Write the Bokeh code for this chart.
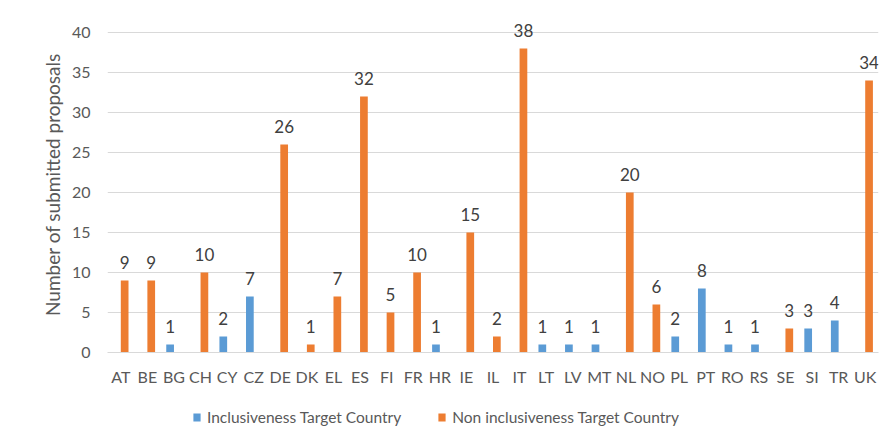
from bokeh.plotting import figure
from bokeh.layouts import column
from bokeh.models import ColumnDataSource, FactorRange, Range1d, FixedTicker, Legend, LegendItem
from bokeh.transform import dodge
from bokeh.core.properties import value
from bokeh.embed import file_html
from bokeh.resources import INLINE

countries = ["AT", "BE", "BG", "CH", "CY", "CZ", "DE", "DK", "EL", "ES", "FI", "FR", "HR", "IE", "IL",
             "IT", "LT", "LV", "MT", "NL", "NO", "PL", "PT", "RO", "RS", "SE", "SI", "TR", "UK"]
inclusive = [0, 0, 1, 0, 2, 7, 0, 0, 0, 0, 0, 0, 1, 0, 0,
             0, 1, 1, 1, 0, 0, 2, 8, 1, 1, 0, 3, 4, 0]
non_inclusive = [9, 9, 0, 10, 0, 0, 26, 1, 7, 32, 5, 10, 0, 15, 2,
                 38, 0, 0, 0, 20, 6, 0, 0, 0, 0, 3, 0, 0, 34]
y_ticks = [0, 5, 10, 15, 20, 25, 30, 35, 40]
series_names = ["Inclusiveness Target Country", "Non inclusiveness Target Country"]
y_title = "Number of submitted proposals"

FONT = "Lato"
BLUE = "#5B9BD5"
ORANGE = "#ED7D31"
TXT = "#595959"

x_range = FactorRange(*countries)
p = figure(x_range=x_range, y_range=Range1d(0, 42),
           width=880, height=400, output_backend="svg", toolbar_location=None,
           min_border_left=107, min_border_right=2, min_border_top=16, min_border_bottom=48)
p.outline_line_color = None
p.background_fill_color = "white"
p.border_fill_color = "white"

src_i = ColumnDataSource(dict(x=countries, top=inclusive))
src_n = ColumnDataSource(dict(x=countries, top=non_inclusive))
r_i = p.vbar(x=dodge("x", -0.145, range=x_range), top="top", width=0.29, source=src_i,
             fill_color=BLUE, line_color=None)
r_n = p.vbar(x=dodge("x", 0.145, range=x_range), top="top", width=0.29, source=src_n,
             fill_color=ORANGE, line_color=None)

for vals, off in ((inclusive, -0.145), (non_inclusive, 0.145)):
    xs = [c for c, v in zip(countries, vals) if v]
    ys = [v for v in vals if v]
    s = ColumnDataSource(dict(x=xs, y=ys, t=[str(v) for v in ys]))
    p.text(x=dodge("x", off, range=x_range), y="y", text="t", source=s,
           text_font=value(FONT), text_font_size="17px", text_color="#404040",
           text_align="center", text_baseline="alphabetic", y_offset=-18)

p.xgrid.visible = False
p.ygrid.grid_line_color = "#d9d9d9"
p.ygrid.ticker = FixedTicker(ticks=y_ticks)

p.yaxis.ticker = FixedTicker(ticks=y_ticks)
p.yaxis.axis_line_color = None
p.yaxis.major_tick_line_color = None
p.yaxis.minor_tick_line_color = None
p.yaxis.major_tick_out = 0
p.yaxis.major_label_standoff = 17
p.yaxis.major_label_text_font = FONT
p.yaxis.major_label_text_font_size = "16px"
p.yaxis.major_label_text_color = TXT
p.yaxis.axis_label = y_title
p.yaxis.axis_label_standoff = 5
p.yaxis.axis_label_text_font = FONT
p.yaxis.axis_label_text_font_size = "19px"
p.yaxis.axis_label_text_font_style = "normal"
p.yaxis.axis_label_text_color = TXT

p.xaxis.axis_line_color = "#d9d9d9"
p.xaxis.major_tick_line_color = None
p.xaxis.minor_tick_line_color = None
p.xaxis.major_tick_out = 0
p.xaxis.major_label_standoff = 14
p.xaxis.major_label_text_font = FONT
p.xaxis.major_label_text_font_size = "16px"
p.xaxis.major_label_text_color = TXT

# legend strip below the chart (its renderers are hidden; only the legend shows)
lg = figure(width=880, height=34, output_backend="svg", toolbar_location=None,
            x_range=x_range, y_range=Range1d(0, 42),
            x_axis_location=None, y_axis_location=None,
            min_border_left=0, min_border_right=0, min_border_top=0, min_border_bottom=0)
lg.grid.visible = False
lg.outline_line_color = None
lg.border_fill_color = "white"
d_i = lg.vbar(x="x", top="top", width=0.29, source=src_i, fill_color=BLUE, line_color=None, visible=False)
d_n = lg.vbar(x="x", top="top", width=0.29, source=src_n, fill_color=ORANGE, line_color=None, visible=False)
legend = Legend(items=[LegendItem(label=series_names[0], renderers=[d_i]),
                       LegendItem(label=series_names[1], renderers=[d_n])],
                orientation="horizontal", location=(85, 8),
                glyph_width=9, glyph_height=10, label_height=18,
                label_standoff=6, spacing=36, padding=0, margin=0,
                border_line_color=None, background_fill_alpha=0,
                inactive_fill_alpha=0,
                label_text_font=FONT, label_text_font_size="15.5px", label_text_color=TXT)
lg.add_layout(legend, "center")

layout = column(p, lg, spacing=0)
open("out.html", "w").write(file_html(layout, INLINE))
